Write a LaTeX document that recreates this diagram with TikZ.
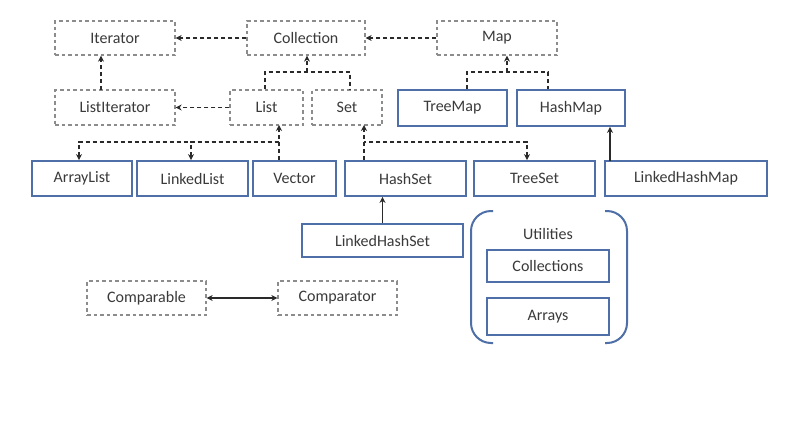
\documentclass[tikz,border=0pt]{standalone}
\usepackage{fontspec}
\setmainfont{Carlito}
\usetikzlibrary{arrows.meta}
\definecolor{txt}{HTML}{3A3A3A}
\definecolor{dgray}{HTML}{8C8C8C}
\definecolor{ublue}{HTML}{4E6FA8}
\definecolor{cline}{HTML}{2A2A2A}
\tikzset{
  box/.style={inner sep=0pt, text=txt, font=\fontsize{16}{19}\selectfont},
  dbox/.style={box, draw=dgray, line width=1.3pt, dash pattern=on 3.5pt off 3pt},
  sbox/.style={box, draw=ublue, line width=1.8pt},
  dl/.style={draw=cline, line width=1.5pt, dash pattern=on 4pt off 3pt},
  sl/.style={draw=cline, line width=1.5pt},
  tip/.style={-{Stealth[length=6pt,width=6pt]}},
  rtip/.style={{Stealth[length=6pt,width=6pt]}-},
  btip/.style={{Stealth[length=6pt,width=6pt]}-{Stealth[length=6pt,width=6pt]}}
}
\begin{document}
\begin{tikzpicture}[x=1pt,y=-1pt]
\useasboundingbox[fill=white] (0,0) rectangle (792,426);
% row 1
\node[dbox, minimum width=120pt, minimum height=34pt] (iter) at (115,38) {Iterator};
\node[dbox, minimum width=118pt, minimum height=34pt] (coll) at (306,38) {Collection};
\node[dbox, minimum width=120pt, minimum height=34pt] (map) at (497,38) {Map};
% row 2
\node[dbox, minimum width=120pt, minimum height=35pt] (liter) at (115,107.5) {ListIterator};
\node[dbox, minimum width=73pt, minimum height=35pt] (list) at (266.5,107.5) {List};
\node[dbox, minimum width=70pt, minimum height=35pt] (set) at (347,107.5) {Set};
\node[sbox, minimum width=109pt, minimum height=36pt] (treemap) at (452.5,108) {TreeMap};
\node[sbox, minimum width=108pt, minimum height=36pt] (hashmap) at (571,108) {HashMap};
% row 3
\node[sbox, minimum width=100pt, minimum height=35pt] (arraylist) at (82,178.5) {ArrayList};
\node[sbox, minimum width=111pt, minimum height=35pt] (linkedlist) at (192.5,178.5) {LinkedList};
\node[sbox, minimum width=83pt, minimum height=35pt] (vector) at (294.5,178.5) {Vector};
\node[sbox, minimum width=121pt, minimum height=35pt] (hashset) at (405.5,178.5) {HashSet};
\node[sbox, minimum width=121pt, minimum height=35pt] (treeset) at (534.5,178.5) {TreeSet};
\node[sbox, minimum width=162pt, minimum height=35pt] (lhm) at (686,178.5) {LinkedHashMap};
% row 4
\node[sbox, minimum width=161pt, minimum height=33pt] (lhs) at (382.5,240.5) {LinkedHashSet};
% utilities
\node[box] (util) at (548,234) {Utilities};
\node[sbox, minimum width=122pt, minimum height=32pt] (colls) at (548,266) {Collections};
\node[sbox, minimum width=122pt, minimum height=37pt] (arrays) at (548,316.5) {Arrays};
\draw[ublue, line width=2pt, rounded corners=20pt] (493,211) -- (471,211) -- (471,343) -- (493,343);
\draw[ublue, line width=2pt, rounded corners=20pt] (605,211) -- (627,211) -- (627,343) -- (605,343);
% comparable
\node[dbox, minimum width=119pt, minimum height=34pt] (cmpble) at (146.5,298) {Comparable};
\node[dbox, minimum width=119pt, minimum height=34pt] (cmptor) at (337.5,298) {Comparator};
% junction coordinates
\coordinate (j1) at (307,72);
\coordinate (j2) at (507,72);
\coordinate (lb) at (279,125);
\coordinate (h1) at (279,142);
\coordinate (sb) at (364,125);
\coordinate (h2) at (364,142);
\coordinate (c1) at (610,161);
\coordinate (c2) at (101,90);
% connectors
\draw[dl,tip] (coll.west) -- (iter.east);
\draw[dl,tip] (map.west) -- (coll.east);
\draw[dl,tip] (c2) -- (c2 |- iter.south);
\draw[dl,tip] (list.west) -- (liter.east);
\draw[dl] ([xshift=-1.5pt]list.north) |- (j1) -| ([xshift=3pt]set.north);
\draw[dl,tip] (j1) -- (j1 |- coll.south);
\draw[dl] ([xshift=14.5pt]treemap.north) |- (j2) -| ([xshift=-23pt]hashmap.north);
\draw[dl,tip] (j2) -- (j2 |- map.south);
\draw[sl,tip] (c1) -- (c1 |- hashmap.south);
\draw[dl,tip] (vector.north -| lb) -- (lb);
\draw[dl,rtip] ([xshift=-3pt]arraylist.north) |- (h1);
\draw[dl,rtip] ([xshift=-1.5pt]linkedlist.north) |- (h1);
\draw[dl,tip] (hashset.north -| sb) -- (sb);
\draw[dl,rtip] ([xshift=-7.5pt]treeset.north) |- (h2);
\draw[sl,tip] (lhs.north) -- (lhs.north |- hashset.south);
\draw[sl,btip] (cmpble.east) -- (cmptor.west);
\end{tikzpicture}
\end{document}
